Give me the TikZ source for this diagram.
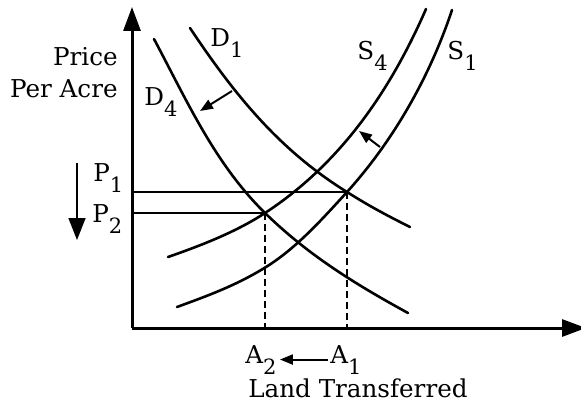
\documentclass[tikz,border=0pt]{standalone}
\usepackage{fontspec}
\setmainfont{DejaVu Serif}
\usetikzlibrary{arrows.meta}
\newcommand{\lsub}[1]{\raisebox{-5.5pt}{\fontsize{10.5}{10.5}\selectfont #1}}
\tikzset{
  axisline/.style={line width=1.5pt,-{Triangle[length=12pt,width=8.5pt]}},
  curve/.style={line width=1.3pt,line cap=round},
  pline/.style={line width=1pt},
  dropline/.style={line width=0.9pt,dash pattern=on 3.5pt off 2pt},
  shiftarrow/.style={line width=1pt,-{Triangle[length=6.5pt,width=5pt]}},
  tag/.style={inner sep=0pt,font=\fontsize{12.3}{14}\selectfont}}

\begin{document}
\begin{tikzpicture}[x=0.5pt,y=-0.5pt]
  \useasboundingbox (0,0) rectangle (581,405);

  % axes
  \coordinate (o) at (132,328);
  \coordinate (ytop) at (132,7);
  \coordinate (xend) at (586,328);
  % equilibria
  \coordinate (e1) at (347,192);
  \coordinate (e2) at (265,213);

  \node[tag,anchor=base east] (price) at (118,66) {Price};
  \node[tag,anchor=base east] (peracre) at (118,98) {Per Acre};
  \node[tag,anchor=base west] (p1) at (93,182) {P\lsub{1}};
  \node[tag,anchor=base west] (p2) at (92,222) {P\lsub{2}};
  \node[tag,anchor=base west] (d1) at (210,47) {D\lsub{1}};
  \node[tag,anchor=base west] (d4) at (144,106) {D\lsub{4}};
  \node[tag,anchor=base west] (s4) at (357,60) {S\lsub{4}};
  \node[tag,anchor=base west] (s1) at (447,60) {S\lsub{1}};
  \node[tag,anchor=base west] (a2) at (245,363) {A\lsub{2}};
  \node[tag,anchor=base west] (a1) at (330,363) {A\lsub{1}};
  \node[tag,anchor=base] (land) at (358,397) {Land Transferred};

  \draw[axisline] (o) -- (ytop);
  \draw[axisline] (o) -- (xend);

  \draw[pline] (o |- e1) -- (e1);
  \draw[pline] (o |- e2) -- (e2);
  \draw[dropline] (e1) -- (e1 |- o);
  \draw[dropline] (e2) -- (e2 |- o);

  % demand
  \draw[curve] (190,28) .. controls (234,94) and (279,150) .. (e1)
    .. controls (369,206) and (388,216) .. (410,227);
  \draw[curve] (154,39) .. controls (187,101) and (215,164) .. (e2)
    .. controls (308,255) and (355,284) .. (408,313);
  % supply
  \draw[curve] (168,257) .. controls (201,245.5) and (236,232) .. (e2)
    .. controls (340,164) and (390,91.5) .. (426,9);
  \draw[curve] (177,307) .. controls (207,296) and (236,285.6) .. (266,267)
    .. controls (296,248.4) and (322,219.5) .. (e1)
    .. controls (394,140) and (430,76) .. (452,10);

  % shifts
  \coordinate (dfrom) at (232,91);
  \coordinate (dto) at (200,111);
  \coordinate (sfrom) at (380,147);
  \coordinate (sto) at (359,131);
  \coordinate (ptop) at (77,163);
  \coordinate (pbot) at (77,240);
  \draw[shiftarrow] (dfrom) -- (dto);
  \draw[shiftarrow] (sfrom) -- (sto);
  \draw[line width=0.8pt,-{Triangle[length=11pt,width=8.5pt]}] (ptop) -- (pbot);
  \draw[shiftarrow,shorten <=1pt,shorten >=1.5pt] (a1.west) -- (a2.east);
\end{tikzpicture}
\end{document}
